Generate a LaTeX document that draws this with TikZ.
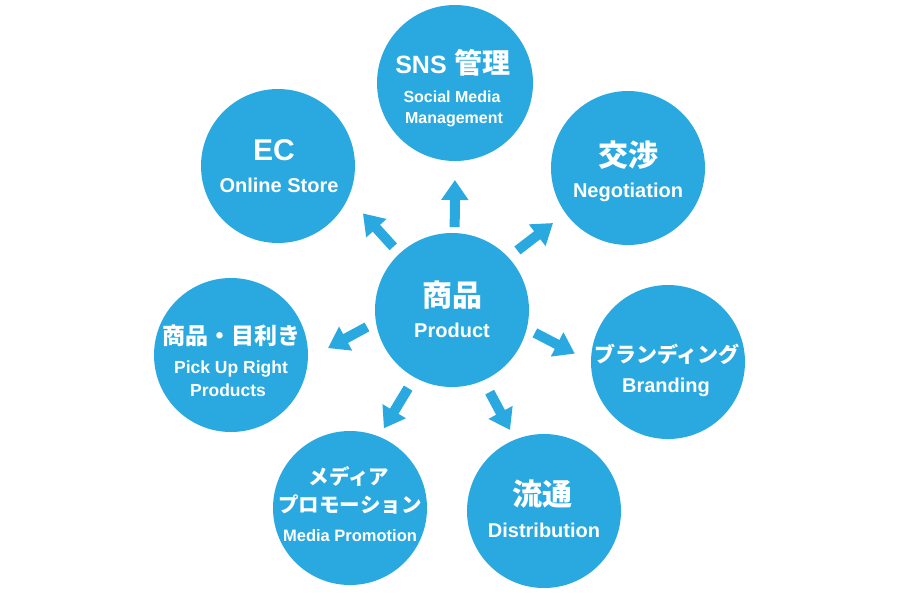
\documentclass[tikz,border=0pt]{standalone}
\usepackage{fontspec}
\setmainfont{Liberation Sans}
\newfontfamily\jp{Noto Sans CJK JP}
\usetikzlibrary{arrows.meta}
\definecolor{blu}{RGB}{41,169,224}
\newcommand{\fsz}[1]{\fontsize{#1}{#1}\selectfont}
\tikzset{
  bub/.style={circle, fill=blu, minimum size=154pt, inner sep=0pt, outer sep=0pt},
  lbl/.style={text=white, inner sep=0pt, outer sep=0pt, font=\bfseries},
  jlbl/.style={lbl, anchor=center},
  elbl/.style={lbl, anchor=base},
  arr/.style={draw=blu, line width=10pt, -{Triangle[width=26pt,length=20pt]}},
}
\begin{document}
\begin{tikzpicture}[x=1pt,y=-1pt]
\fill[white] (0,0) rectangle (900,600);
\useasboundingbox (0,0) rectangle (900,600);
% circles
\node[bub] (c) at (452,310) {};
\node[bub, minimum size=156pt] (sns) at (455,83) {};
\node[bub] (ec) at (278,166) {};
\node[bub] (neg) at (628,168) {};
\node[bub] (pick) at (231,355) {};
\node[bub] (brand) at (668,362) {};
\node[bub] (media) at (350,508) {};
\node[bub] (dist) at (544,511) {};
% arrows
\draw[arr, shorten <=6pt, shorten >=19pt] (c.88) -- (sns.270);
\draw[arr, shorten <=9.3pt, shorten >=21.7pt] (c.133.3) -- (ec.336.5);
\draw[arr, shorten <=11.5pt, shorten >=16pt] (c.43.6) -- (neg.216.1);
\draw[arr, shorten <=10.2pt, shorten >=22.9pt] (c.189.1) -- (pick.357.1);
\draw[arr, shorten <=9.2pt, shorten >=18.2pt] (c.346.8) -- (brand.180);
\draw[arr, shorten <=12.6pt, shorten >=9.7pt] (c.241) -- (media.68.5);
\draw[arr, shorten <=13.4pt, shorten >=10.9pt] (c.294.4) -- (dist.112.1);
% texts
\node[jlbl] (tsns1) at (453,63) {{\fsz{25}SNS}\hspace{8pt}{\jp\fsz{28}管理}};
\node[elbl] (tsns2) at (452,102) {\fsz{16}Social Media};
\node[elbl] (tsns3) at (454,123) {\fsz{16}Management};
\node[elbl] (tec1) at (274,160) {\fsz{30}EC};
\node[elbl] (tec2) at (279,192) {\fsz{20}Online Store};
\node[jlbl] (tneg1) at (628,155) {\jp\fsz{30}交渉};
\node[elbl] (tneg2) at (628,197) {\fsz{20}Negotiation};
\node[jlbl] (tc1) at (452,295) {\jp\fsz{30}商品};
\node[elbl] (tc2) at (452,337) {\fsz{20}Product};
\node[jlbl] (tp1) at (231,336) {\jp\fsz{23}商品・目利き};
\node[elbl] (tp2) at (231,373) {\fsz{17.5}Pick Up Right};
\node[elbl] (tp3) at (228,396) {\fsz{17.5}Products};
\node[jlbl] (tb1) at (667,354) {\jp\fsz{21}ブランディング};
\node[elbl] (tb2) at (666,392) {\fsz{20}Branding};
\node[jlbl] (tm1) at (349,476) {\jp\fsz{20.5}メディア};
\node[jlbl] (tm2) at (350,504) {\jp\fsz{20.5}プロモーション};
\node[elbl] (tm3) at (350,541) {\fsz{16.5}Media Promotion};
\node[jlbl] (td1) at (542,494) {\jp\fsz{30}流通};
\node[elbl] (td2) at (544,537) {\fsz{20}Distribution};
\end{tikzpicture}
\end{document}
